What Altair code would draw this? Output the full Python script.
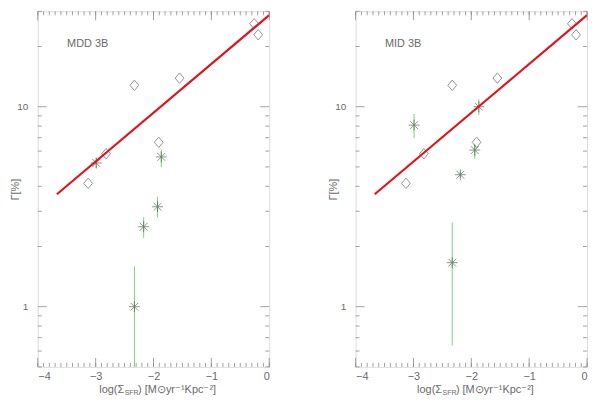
import altair as alt
import pandas as pd

# ---------------- data ----------------
diam_x = [-3.13, -2.82, -2.33, -1.91, -1.55, -0.26, -0.19]
diam_y = [4.14, 5.82, 12.8, 6.64, 13.9, 26.0, 22.9]

mdd_x = [-2.99, -2.17, -1.93, -1.865, -2.33]
mdd_y = [5.23, 2.51, 3.16, 5.61, 1.0]
mdd_lo = [4.95, 2.21, 2.80, 4.98, 0.3]
mdd_hi = [5.55, 2.80, 3.54, 6.10, 1.59]

mid_x = [-2.99, -2.19, -1.94, -1.87, -2.33]
mid_y = [8.09, 4.57, 6.07, 10.0, 1.66]
mid_lo = [6.97, 4.45, 5.47, 9.1, 0.64]
mid_hi = [9.2, 4.70, 6.47, 10.9, 2.64]

fit_x = [-3.67, 0.0]
fit_y = [3.65, 28.7]

x_major = [-4, -3, -2, -1, 0]
x_minor = [round(-4 + 0.1 * i, 1) for i in range(41)]
y_major = [1, 10]
y_minor = [0.5, 0.6, 0.7, 0.8, 0.9, 2, 3, 4, 5, 6, 7, 8, 9, 20, 30]

W, H = 233, 358
AX = "#8a8a8a"
TX = "#6a6a6a"
FONT = "Liberation Sans"

STAR = "M-1,0L1,0M0,-1L0,1M-0.72,-0.72L0.72,0.72M-0.72,0.72L0.72,-0.72"
DIAM = "M0,-1L0.85,0L0,1L-0.85,0Z"

XS = alt.Scale(domain=[-4, 0], nice=False, zero=False)
YS = alt.Scale(type="log", domain=[0.5, 30], nice=False)
XAXIS = alt.Axis(values=x_major, ticks=False, domain=False, grid=False,
                 labelPadding=4, labelColor=TX, labelFont=FONT,
                 labelFontSize=11, title=None)
YAXIS = alt.Axis(values=y_major, ticks=False, domain=False, grid=False,
                 format="~g", labelPadding=10, labelColor=TX,
                 labelFont=FONT, labelFontSize=10, title="Γ[%]",
                 titleColor=TX, titleFont=FONT, titleFontSize=11,
                 titleFontWeight="normal", titlePadding=-3.5)


def X(f):
    return alt.X(f, scale=XS, axis=XAXIS)


def Y(f):
    return alt.Y(f, scale=YS, axis=YAXIS)


def panel(label, sx, sy, slo, shi):
    diam = pd.DataFrame({"x": diam_x, "y": diam_y})
    stars = pd.DataFrame({"x": sx, "y": sy, "lo": slo, "hi": shi})
    fit = pd.DataFrame({"x": fit_x, "y": fit_y})

    d_layer = alt.Chart(diam).mark_point(
        shape=DIAM, size=110, filled=False, color="#555555", strokeWidth=0.9
    ).encode(x=X("x:Q"), y=Y("y:Q"))

    err = alt.Chart(stars).mark_rule(color="#7fd07f", strokeWidth=1, clip=True).encode(
        x=X("x:Q"), y=Y("lo:Q"), y2="hi:Q")

    st = alt.Chart(stars).mark_point(
        shape=STAR, size=120, filled=False, color="#4a584a", strokeWidth=0.9
    ).encode(x=X("x:Q"), y=Y("y:Q"))

    line = alt.Chart(fit).mark_line(color="#e0141e", strokeWidth=2.2).encode(
        x=X("x:Q"), y=Y("y:Q"))

    def xt(vals, L):
        df = pd.DataFrame({"v": vals})
        b = alt.Chart(df).mark_rule(color=AX, strokeWidth=0.8)
        return [
            b.encode(x=X("v:Q"), y=alt.value(H - L), y2=alt.value(H)),
            b.encode(x=X("v:Q"), y=alt.value(0), y2=alt.value(L)),
        ]

    def yt(vals, L):
        df = pd.DataFrame({"v": vals})
        b = alt.Chart(df).mark_rule(color=AX, strokeWidth=0.8)
        return [
            b.encode(y=Y("v:Q"), x=alt.value(0), x2=alt.value(L)),
            b.encode(y=Y("v:Q"), x=alt.value(W - L), x2=alt.value(W)),
        ]

    ticks = xt(x_minor, 4) + xt(x_major, 9) + yt(y_minor, 4) + yt(y_major, 9)

    lab = alt.Chart(pd.DataFrame({"t": [label]})).mark_text(
        align="left", baseline="middle", color=TX, font=FONT, fontSize=11
    ).encode(text="t:N", x=alt.value(29.5), y=alt.value(33))

    t1 = alt.Chart(pd.DataFrame({"t": ["log(Σ"]})).mark_text(
        align="right", baseline="middle", color=TX, font=FONT, fontSize=11
    ).encode(text="t:N", x=alt.value(87), y=alt.value(H + 23))
    t2 = alt.Chart(pd.DataFrame({"t": ["SFR"]})).mark_text(
        align="left", baseline="middle", color=TX, font=FONT, fontSize=7
    ).encode(text="t:N", x=alt.value(87.5), y=alt.value(H + 26))
    t3 = alt.Chart(pd.DataFrame({"t": [")  [M⊙yr⁻¹Kpc⁻²]"]})).mark_text(
        align="left", baseline="middle", color=TX, font=FONT, fontSize=11
    ).encode(text="t:N", x=alt.value(101), y=alt.value(H + 23))

    return alt.layer(err, d_layer, st, line, *ticks, lab, t1, t2, t3).properties(
        width=W, height=H)


left = panel("MDD  3B", mdd_x, mdd_y, mdd_lo, mdd_hi)
right = panel("MID  3B", mid_x, mid_y, mid_lo, mid_hi)

chart = alt.hconcat(left, right, spacing=52).properties(
    padding={"left": 0, "top": 0, "right": 0, "bottom": 0}
).configure_view(stroke=AX, strokeWidth=1).configure(background="white")

chart.save("out.html", embed_options={"renderer": "svg", "actions": False})
